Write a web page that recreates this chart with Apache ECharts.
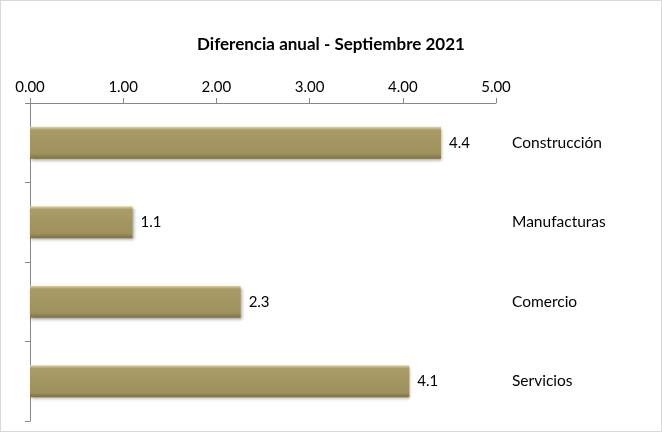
<!DOCTYPE html>
<html>
<head>
<meta charset="utf-8">
<script src="https://cdn.jsdelivr.net/npm/echarts@6/dist/echarts.min.js"></script>
<style>
html,body{margin:0;padding:0;background:#fff;}
#c{width:662px;height:432px;box-sizing:border-box;border:1px solid #d9d9d9;}
</style>
</head>
<body>
<div id="c"></div>
<script>
const categories = ["Construcción", "Manufacturas", "Comercio", "Servicios"];
const values = [4.41, 1.1, 2.26, 4.07];
const titleText = "Diferencia anual - Septiembre 2021";

const chart = echarts.init(document.getElementById('c'));
const font = 'Lato, "Open Sans", sans-serif';
chart.setOption({
  animation: false,
  title: {
    text: titleText, left: 'center', top: 30,
    textStyle: {fontFamily: font, fontWeight: 'bold', fontSize: 17, color: '#000'}
  },
  grid: {left: 29, right: 165, top: 102, bottom: 10},
  xAxis: {
    type: 'value', position: 'top', min: 0, max: 5, interval: 1,
    axisLine: {show: true, lineStyle: {color: '#888'}},
    axisTick: {show: true, length: 5, lineStyle: {color: '#888'}},
    splitLine: {show: false},
    axisLabel: {formatter: v => v.toFixed(2), fontFamily: font, fontSize: 15, color: '#000', margin: 8}
  },
  yAxis: [{
    type: 'category', data: categories, inverse: true,
    axisLine: {show: true, lineStyle: {color: '#888'}},
    axisTick: {show: true, length: 5, lineStyle: {color: '#888'}},
    axisLabel: {show: false}
  }, {
    type: 'category', data: categories, inverse: true, position: 'right',
    axisLine: {show: false}, axisTick: {show: false},
    axisLabel: {show: true, margin: 16, align: 'left', fontFamily: font, fontSize: 15.5, color: '#000'}
  }],
  series: [{
    type: 'bar', data: values, yAxisIndex: 0, barWidth: 32,
    itemStyle: {
      color: new echarts.graphic.LinearGradient(0, 0, 0, 1, [
        {offset: 0, color: '#e2d7a0'},
        {offset: 0.1, color: '#a99c66'},
        {offset: 0.85, color: '#9e915c'},
        {offset: 1, color: '#7d7145'}
      ]),
      shadowBlur: 3, shadowColor: 'rgba(0,0,0,0.35)', shadowOffsetX: 1, shadowOffsetY: 2
    },
    label: {show: true, position: 'right', distance: 8, formatter: p => p.value.toFixed(1),
      fontFamily: font, fontSize: 15, color: '#000'}
  }]
});
</script>
</body>
</html>
